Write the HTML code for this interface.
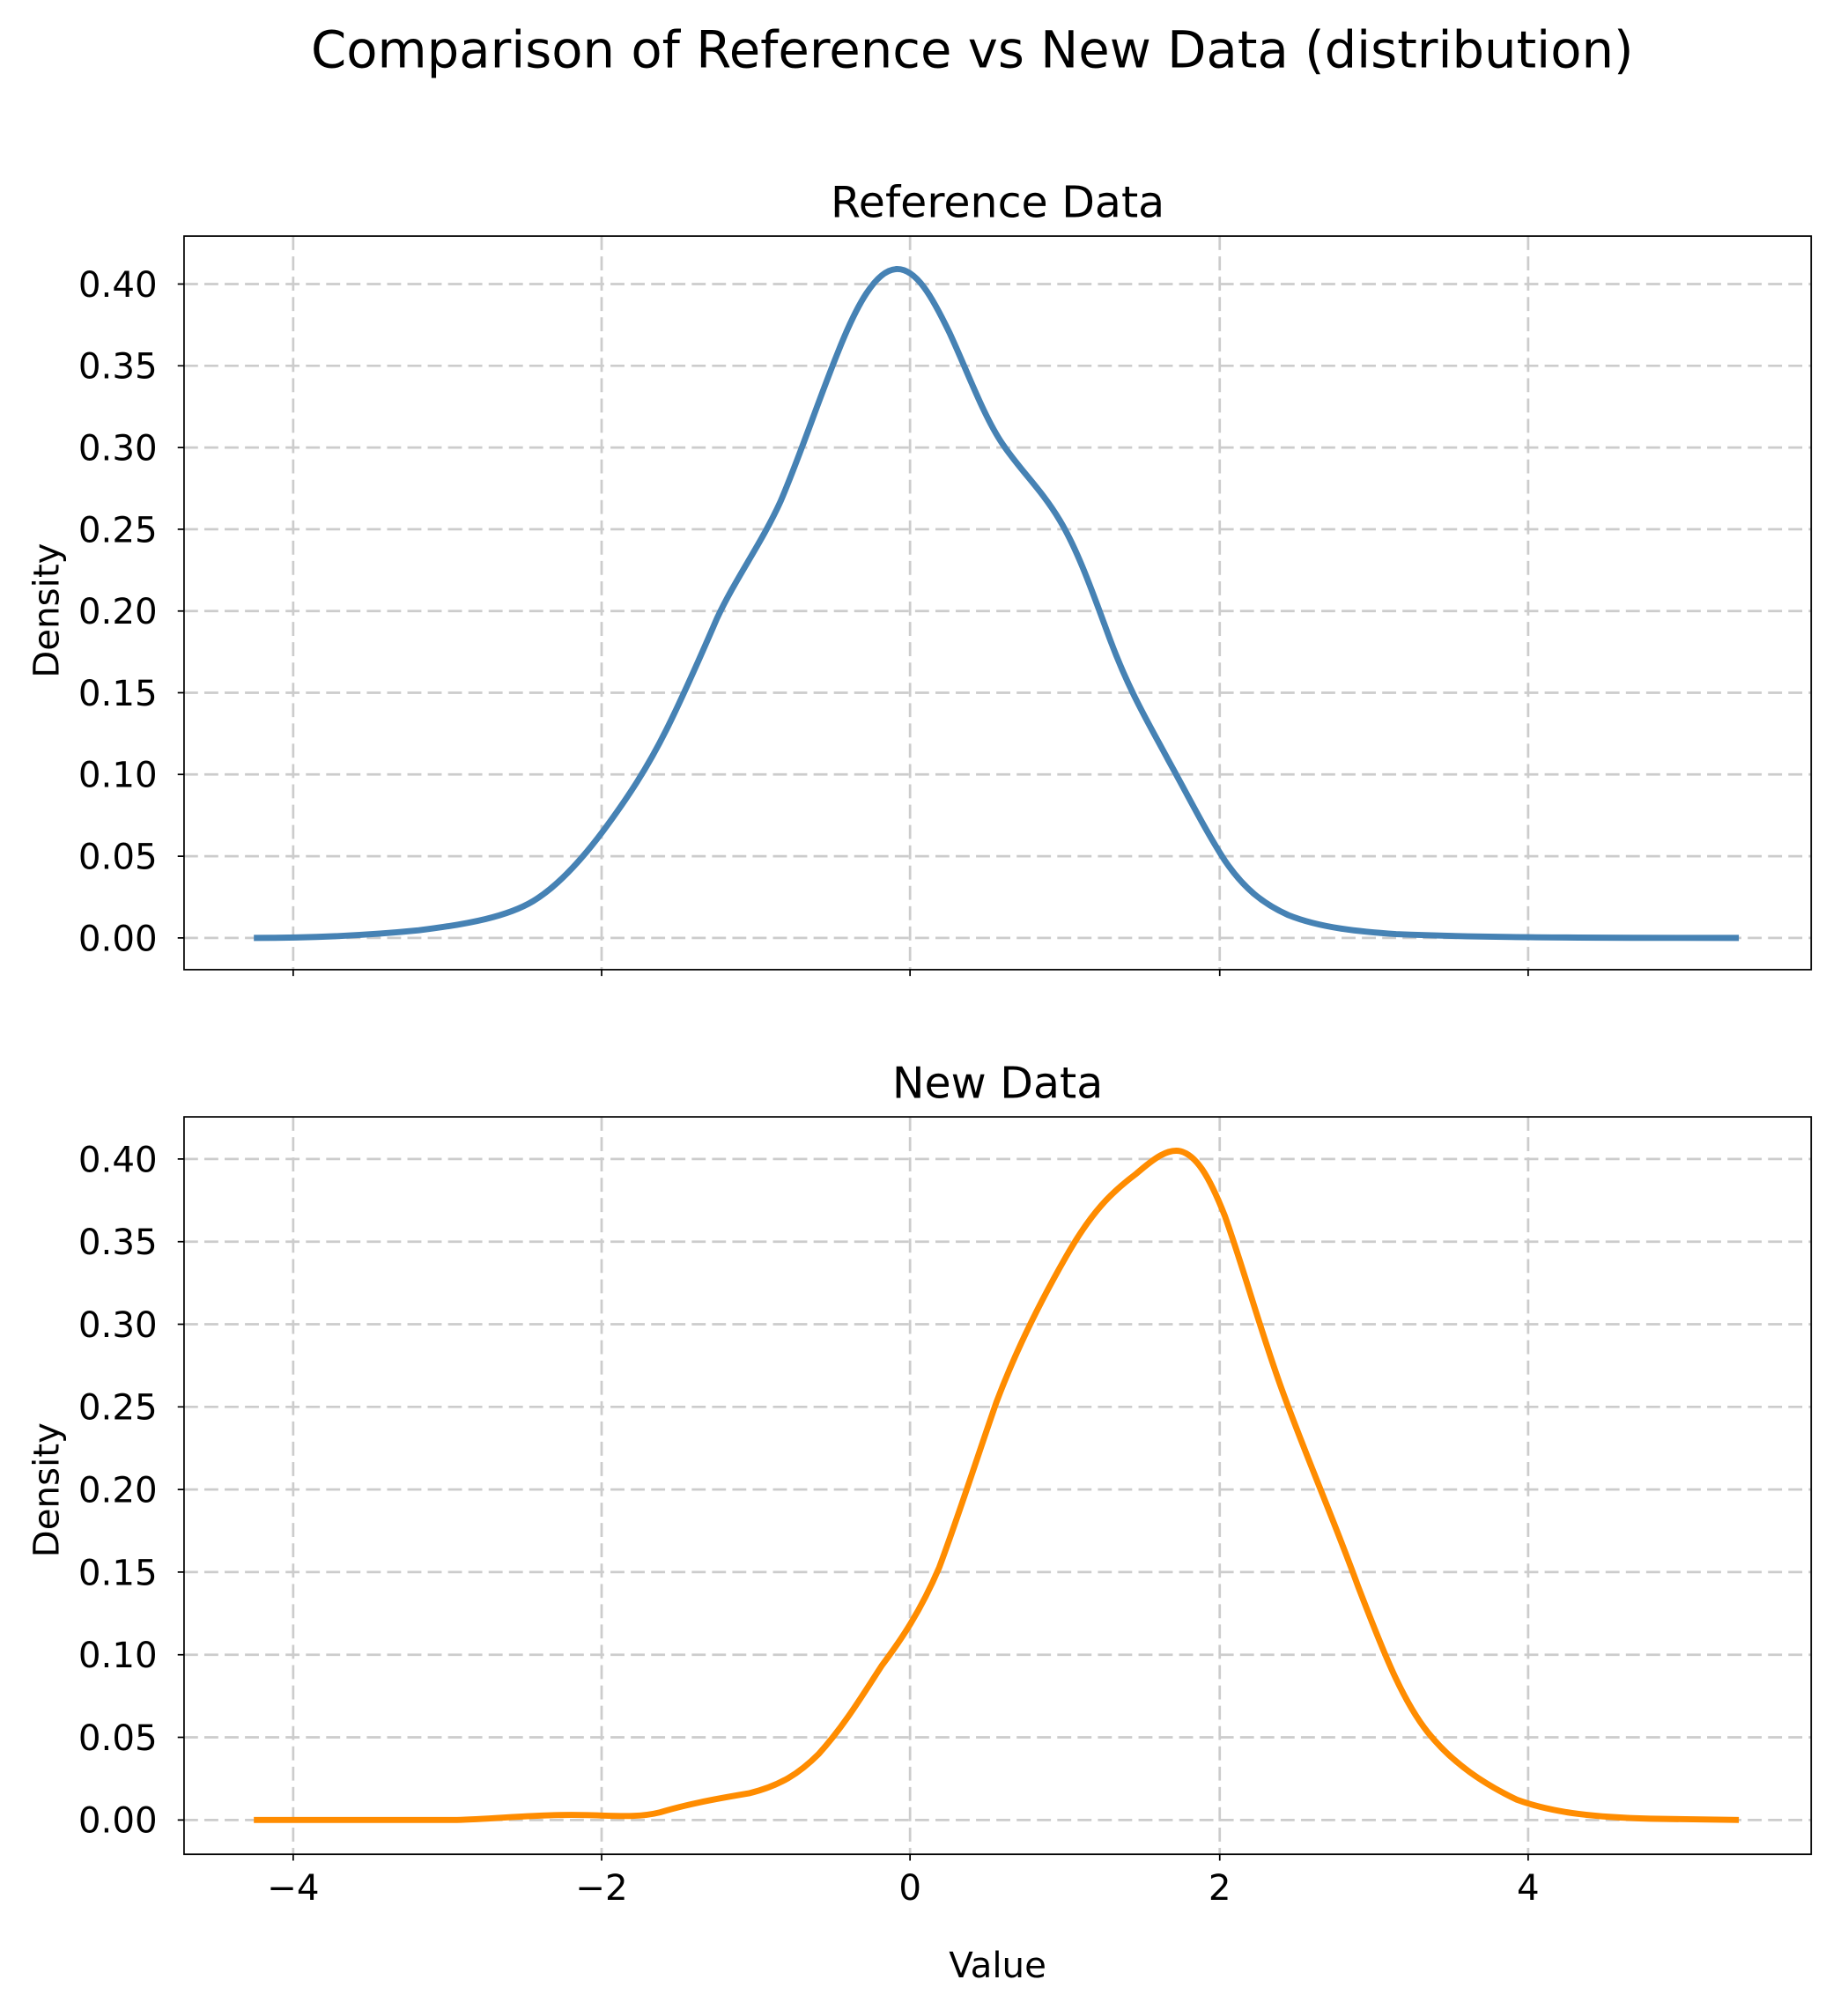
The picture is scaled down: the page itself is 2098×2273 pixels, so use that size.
<!DOCTYPE html>
<html><head><meta charset="utf-8"><style>html,body{margin:0;padding:0;background:#fff}svg{display:block}</style></head>
<body>
<svg width="2098" height="2273" viewBox="0 0 1456 1577.4" xmlns="http://www.w3.org/2000/svg" font-family="'DejaVu Sans','Liberation Sans',sans-serif">
<rect x="0" y="0" width="1456" height="1578" fill="#fff"/>
<text x="766" y="53" font-size="40" text-anchor="middle">Comparison of Reference vs New Data (distribution)</text>
<g stroke="#ccc" stroke-width="1.9" stroke-dasharray="11,5" fill="none">
<path d="M231 186V764M474 186V764M717 186V764M961 186V764M1204 186V764"/>
<path d="M145 739H1427M145 674.6H1427M145 610.2H1427M145 545.8H1427M145 481.4H1427M145 417H1427M145 352.6H1427M145 288.2H1427M145 223.8H1427"/>
</g>
<path fill="none" stroke="#4682b4" stroke-width="4.8" stroke-linejoin="round" stroke-linecap="butt" d="M200 739 C250 739 290 737 330 733 C370 728 400 722 420 710 C440 698 460 675 475 655 C495 628 510 605 525 575 C540 545 555 510 565 487 C580 455 600 428 615 395 C630 360 645 315 660 278 C675 240 690 213 706 212 C722 211 735 235 748 262 C762 292 775 328 790 350 C805 372 820 385 835 410 C850 435 862 470 875 505 C890 545 905 570 920 598 C935 625 950 655 965 678 C980 700 995 712 1015 721 C1040 731 1070 734 1100 736 C1150 738 1200 739 1370 739"/>
<rect x="145" y="186" width="1282" height="578" fill="none" stroke="#000" stroke-width="1.2"/>
<g stroke="#000" stroke-width="1.2">
<path d="M231 764v5M474 764v5M717 764v5M961 764v5M1204 764v5"/>
<path d="M145 739h-5M145 674.6h-5M145 610.2h-5M145 545.8h-5M145 481.4h-5M145 417h-5M145 352.6h-5M145 288.2h-5M145 223.8h-5"/>
</g>
<g font-size="28" text-anchor="end">
<text x="124" y="749">0.00</text><text x="124" y="684.6">0.05</text><text x="124" y="620.2">0.10</text><text x="124" y="555.8">0.15</text><text x="124" y="491.4">0.20</text><text x="124" y="427">0.25</text><text x="124" y="362.6">0.30</text><text x="124" y="298.2">0.35</text><text x="124" y="233.8">0.40</text>
</g>
<text x="786" y="171" font-size="34" text-anchor="middle">Reference Data</text>
<text transform="translate(46,481) rotate(-90)" font-size="28" text-anchor="middle">Density</text>
<g stroke="#ccc" stroke-width="1.9" stroke-dasharray="11,5" fill="none">
<path d="M231 880V1461M474 880V1461M717 880V1461M961 880V1461M1204 880V1461"/>
<path d="M145 1434H1427M145 1368.9H1427M145 1303.8H1427M145 1238.7H1427M145 1173.6H1427M145 1108.5H1427M145 1043.4H1427M145 978.3H1427M145 913.2H1427"/>
</g>
<path fill="none" stroke="#ff8c00" stroke-width="4.8" stroke-linejoin="round" d="M200 1434 L360 1434 C390 1433 420 1430 450 1430 C480 1430 500 1433 520 1428 C540 1422 560 1418 590 1413 C615 1407 630 1397 645 1382 C665 1360 680 1335 695 1312 C710 1292 725 1270 740 1235 C755 1195 770 1148 785 1105 C800 1065 820 1025 840 990 C860 955 875 940 895 925 C910 912 920 905 930 907 C942 910 952 925 965 958 C980 1000 992 1045 1010 1095 C1030 1150 1050 1195 1070 1250 C1090 1302 1105 1340 1125 1365 C1145 1390 1170 1406 1195 1418 C1225 1429 1260 1432 1300 1433 L1370 1434"/>
<rect x="145" y="880" width="1282" height="581" fill="none" stroke="#000" stroke-width="1.2"/>
<g stroke="#000" stroke-width="1.2">
<path d="M231 1461v5M474 1461v5M717 1461v5M961 1461v5M1204 1461v5"/>
<path d="M145 1434h-5M145 1368.9h-5M145 1303.8h-5M145 1238.7h-5M145 1173.6h-5M145 1108.5h-5M145 1043.4h-5M145 978.3h-5M145 913.2h-5"/>
</g>
<g font-size="28" text-anchor="end">
<text x="124" y="1444">0.00</text><text x="124" y="1378.9">0.05</text><text x="124" y="1313.8">0.10</text><text x="124" y="1248.7">0.15</text><text x="124" y="1183.6">0.20</text><text x="124" y="1118.5">0.25</text><text x="124" y="1053.4">0.30</text><text x="124" y="988.3">0.35</text><text x="124" y="923.2">0.40</text>
</g>
<g font-size="28" text-anchor="middle">
<text x="231" y="1497">−4</text><text x="474" y="1497">−2</text><text x="717" y="1497">0</text><text x="961" y="1497">2</text><text x="1204" y="1497">4</text>
</g>
<text x="786" y="1558" font-size="28" text-anchor="middle">Value</text>
<text x="786" y="865" font-size="34" text-anchor="middle">New Data</text>
<text transform="translate(46,1174) rotate(-90)" font-size="28" text-anchor="middle">Density</text>
</svg>
</body></html>
